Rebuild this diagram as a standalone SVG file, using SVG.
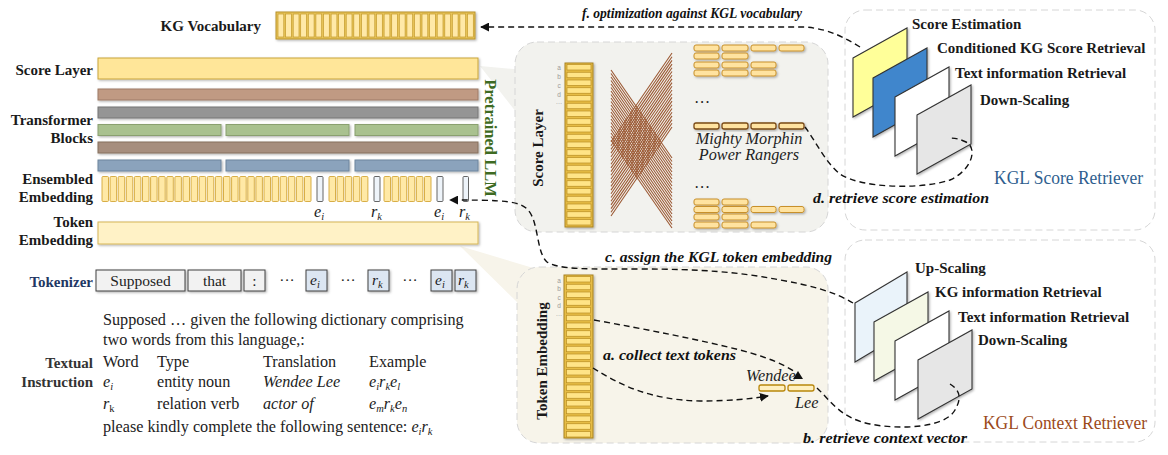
<svg xmlns="http://www.w3.org/2000/svg" width="1168" height="455" viewBox="0 0 1168 455">
<defs>
<style>
.lbl{font-family:"Liberation Serif",serif;font-weight:bold;font-size:15px;fill:#1a1a1a}
.cl{font-family:"Liberation Serif",serif;font-weight:bold;font-style:italic;font-size:15.5px;fill:#111}
.txt{font-family:"Liberation Serif",serif;font-size:16.2px;fill:#222}
.it{font-style:italic}
.sm{font-size:10.5px}
.tok{font-family:"Liberation Serif",serif;font-size:15.5px;fill:#222}
.tiny{font-family:"Liberation Sans",sans-serif;font-size:6.5px;fill:#9a9a9a}
.dash{fill:none;stroke:#111;stroke-width:1.4;stroke-dasharray:6 4}
.cell{fill:#FFE9A6;stroke:#D4A637;stroke-width:0.9}
.spc{fill:#EEF4FA;stroke:#555;stroke-width:0.9}
.vcell{fill:#FFE9A8;stroke:#C49A2C;stroke-width:0.7}
.row{fill:#FFE487;stroke:#B88D22;stroke-width:0.7}
.hb{fill:#FFE3A0;stroke:#C8902A;stroke-width:1}
.hbd{fill:#FFE3A0;stroke:#7A4A16;stroke-width:1.3}
.tb{fill:#F2F2F2;stroke:#404040;stroke-width:1}
.tbb{fill:#DCE6F2;stroke:#404040;stroke-width:1}
.panel{stroke:#D6D6D6;stroke-width:1;stroke-dasharray:7 4}
.plane{stroke:#333;stroke-width:1.1}
.xl{fill:none;stroke:#9C5A35;stroke-width:1.1}
</style>
<marker id="ah" viewBox="0 0 10 10" refX="9" refY="5" markerWidth="9" markerHeight="9" markerUnits="userSpaceOnUse" orient="auto"><path d="M0,0 L10,5 L0,10 z" fill="#111"/></marker>
<filter id="sh" x="-10%" y="-20%" width="130%" height="160%"><feDropShadow dx="1.2" dy="1.2" stdDeviation="0.8" flood-color="#000" flood-opacity="0.3"/></filter>
</defs>
<rect width="1168" height="455" fill="#fff"/>

<!-- middle panels -->
<g id="score-panel">
<polygon points="480,66 524,70 524,122" fill="#F2F2EE"/>
<rect x="515" y="42" width="313" height="190" rx="22" fill="#F2F2EE" class="panel"/>
<text class="lbl" transform="translate(543,148) rotate(-90)" text-anchor="middle">Score Layer</text>
<text class="tiny" x="559" y="70" text-anchor="middle">a</text>
<text class="tiny" x="559" y="79" text-anchor="middle">b</text>
<text class="tiny" x="559" y="88" text-anchor="middle">c</text>
<text class="tiny" x="559" y="97" text-anchor="middle">d</text>
<text class="tiny" x="559" y="104" text-anchor="middle">…</text>
<rect x="565" y="63" width="28" height="164" fill="#E6BC45" stroke="#A9831E" filter="url(#sh)"/>
<g class="row">
<rect x="567" y="64.5" width="24" height="5.5"/><rect x="567" y="72.25" width="24" height="5.5"/><rect x="567" y="80" width="24" height="5.5"/><rect x="567" y="87.75" width="24" height="5.5"/><rect x="567" y="95.5" width="24" height="5.5"/><rect x="567" y="103.25" width="24" height="5.5"/><rect x="567" y="111" width="24" height="5.5"/><rect x="567" y="118.75" width="24" height="5.5"/><rect x="567" y="126.5" width="24" height="5.5"/><rect x="567" y="134.25" width="24" height="5.5"/><rect x="567" y="142" width="24" height="5.5"/><rect x="567" y="149.75" width="24" height="5.5"/><rect x="567" y="157.5" width="24" height="5.5"/><rect x="567" y="165.25" width="24" height="5.5"/><rect x="567" y="173" width="24" height="5.5"/><rect x="567" y="180.75" width="24" height="5.5"/><rect x="567" y="188.5" width="24" height="5.5"/><rect x="567" y="196.25" width="24" height="5.5"/><rect x="567" y="204" width="24" height="5.5"/><rect x="567" y="211.75" width="24" height="5.5"/><rect x="567" y="219.5" width="24" height="5.5"/>
</g>
<path class="xl" d="M611,70 L672,158 M611,73.5 L672,161.5 M611,77 L672,165 M611,80.5 L672,168.5 M611,84 L672,172 M611,87.5 L672,175.5 M611,91 L672,179 M611,94.5 L672,182.5 M611,98 L672,186 M611,101.5 L672,189.5 M611,105 L672,193 M611,108.5 L672,196.5 M611,112 L672,200 M611,115.5 L672,203.5 M611,119 L672,207 M611,122.5 L672,210.5 M611,126 L672,214 M611,129.5 L672,217.5 M611,133 L672,221 M611,136.5 L672,224.5 M611,140 L672,228"/>
<path class="xl" d="M611,142 L672,53 M611,145.7 L672,56.7 M611,149.4 L672,60.4 M611,153.1 L672,64.1 M611,156.8 L672,67.8 M611,160.5 L672,71.5 M611,164.2 L672,75.2 M611,167.9 L672,78.9 M611,171.6 L672,82.6 M611,175.3 L672,86.3 M611,179 L672,90 M611,182.7 L672,93.7 M611,186.4 L672,97.4 M611,190.1 L672,101.1 M611,193.8 L672,104.8 M611,197.5 L672,108.5 M611,201.2 L672,112.2 M611,204.9 L672,115.9 M611,208.6 L672,119.6 M611,212.3 L672,123.3 M611,216 L672,127"/>
<g class="hb" filter="url(#sh)">
<rect x="694" y="45" width="25" height="6" rx="2"/><rect x="722" y="45" width="26" height="6" rx="2"/><rect x="751" y="45" width="25" height="6" rx="2"/><rect x="779" y="45" width="25" height="6" rx="2"/>
<rect x="694" y="53" width="25" height="6" rx="2"/><rect x="722" y="53" width="26" height="6" rx="2"/>
<rect x="694" y="62" width="25" height="6" rx="2"/><rect x="722" y="62" width="26" height="6" rx="2"/><rect x="751" y="62" width="25" height="6" rx="2"/>
<rect x="694" y="70" width="25" height="6" rx="2"/><rect x="722" y="70" width="26" height="6" rx="2"/><rect x="751" y="70" width="25" height="6" rx="2"/>
<rect x="694" y="199" width="25" height="6" rx="2"/><rect x="722" y="199" width="26" height="6" rx="2"/>
<rect x="694" y="206.5" width="25" height="6" rx="2"/><rect x="722" y="206.5" width="26" height="6" rx="2"/><rect x="751" y="206.5" width="25" height="6" rx="2"/><rect x="779" y="206.5" width="25" height="6" rx="2"/>
<rect x="694" y="214" width="25" height="6" rx="2"/><rect x="722" y="214" width="26" height="6" rx="2"/>
<rect x="694" y="222" width="25" height="6" rx="2"/><rect x="722" y="222" width="26" height="6" rx="2"/><rect x="751" y="222" width="25" height="6" rx="2"/>
</g>
<g class="hbd" filter="url(#sh)">
<rect x="694" y="123" width="25" height="6" rx="2"/><rect x="722" y="123" width="26" height="6" rx="2"/><rect x="751" y="123" width="25" height="6" rx="2"/><rect x="779" y="123" width="25" height="6" rx="2"/>
</g>
<text class="txt" x="694" y="103" font-size="13">…</text>
<text class="txt" x="694" y="188" font-size="13">…</text>
<text class="txt it" x="749" y="144" text-anchor="middle" font-size="14" fill="#333">Mighty Morphin</text>
<text class="txt it" x="749" y="160" text-anchor="middle" font-size="14" fill="#333">Power Rangers</text>
</g>

<g id="token-panel">
<polygon points="460,246 540,270 520,305" fill="#F7F4EA"/>
<rect x="517" y="267" width="311" height="176" rx="22" fill="#F7F4EA" class="panel"/>
<text class="lbl" transform="translate(547,361) rotate(-90)" text-anchor="middle">Token Embedding</text>
<text class="tiny" x="559" y="283" text-anchor="middle">a</text>
<text class="tiny" x="559" y="291" text-anchor="middle">b</text>
<text class="tiny" x="559" y="300" text-anchor="middle">c</text>
<text class="tiny" x="559" y="308" text-anchor="middle">d</text>
<text class="tiny" x="559" y="316" text-anchor="middle">…</text>
<rect x="564" y="275" width="29" height="163" fill="#E6BC45" stroke="#A9831E" filter="url(#sh)"/>
<g class="row">
<rect x="566.5" y="276.5" width="24" height="5.5"/><rect x="566.5" y="284.25" width="24" height="5.5"/><rect x="566.5" y="292" width="24" height="5.5"/><rect x="566.5" y="299.75" width="24" height="5.5"/><rect x="566.5" y="307.5" width="24" height="5.5"/><rect x="566.5" y="315.25" width="24" height="5.5"/><rect x="566.5" y="323" width="24" height="5.5"/><rect x="566.5" y="330.75" width="24" height="5.5"/><rect x="566.5" y="338.5" width="24" height="5.5"/><rect x="566.5" y="346.25" width="24" height="5.5"/><rect x="566.5" y="354" width="24" height="5.5"/><rect x="566.5" y="361.75" width="24" height="5.5"/><rect x="566.5" y="369.5" width="24" height="5.5"/><rect x="566.5" y="377.25" width="24" height="5.5"/><rect x="566.5" y="385" width="24" height="5.5"/><rect x="566.5" y="392.75" width="24" height="5.5"/><rect x="566.5" y="400.5" width="24" height="5.5"/><rect x="566.5" y="408.25" width="24" height="5.5"/><rect x="566.5" y="416" width="24" height="5.5"/><rect x="566.5" y="423.75" width="24" height="5.5"/><rect x="566.5" y="431.5" width="24" height="5.5"/>
</g>
<text class="txt it" x="746" y="381" font-size="14" fill="#1F3864">Wendee</text>
<rect x="759" y="385" width="26" height="6" rx="2" fill="#FFF0C0" stroke="#B8860B" stroke-width="1.3"/>
<rect x="788" y="385" width="26" height="6" rx="2" fill="#FFF0C0" stroke="#B8860B" stroke-width="1.3"/>
<text class="txt it" x="795" y="408" font-size="14" fill="#1F3864">Lee</text>
</g>

<!-- right panels -->
<g id="score-retriever">
<rect x="845" y="10" width="310" height="220" rx="20" fill="#fff" class="panel"/>
<polygon class="plane" points="853,58 907,28 907,87 853,117" fill="#FFFF99" filter="url(#sh)"/>
<polygon class="plane" points="873,78 927,48 927,107 873,137" fill="#3F86CC" filter="url(#sh)"/>
<polygon class="plane" points="895,97 949,67 949,126 895,156" fill="#FFFFFF" filter="url(#sh)"/>
<polygon class="plane" points="917,115 971,85 971,144 917,174" fill="#E6E6E6" filter="url(#sh)"/>
<text class="lbl" x="912" y="29">Score Estimation</text>
<text class="lbl" x="937" y="53">Conditioned KG Score Retrieval</text>
<text class="lbl" x="955" y="78">Text information Retrieval</text>
<text class="lbl" x="980" y="105">Down-Scaling</text>
<text x="994" y="184" font-family="Liberation Serif,serif" font-size="18" fill="#2E5E8E" textLength="149" lengthAdjust="spacingAndGlyphs">KGL Score Retriever</text>
</g>

<g id="context-retriever">
<rect x="845" y="240" width="310" height="202" rx="20" fill="#fff" class="panel"/>
<polygon class="plane" points="855,303 907,272 907,331 855,362" fill="#EAF3FA" filter="url(#sh)"/>
<polygon class="plane" points="874,322 928,292 928,351 874,381" fill="#F5F8E6" filter="url(#sh)"/>
<polygon class="plane" points="895,341 949,311 949,370 895,400" fill="#FFFFFF" filter="url(#sh)"/>
<polygon class="plane" points="918,360 972,330 972,389 918,419" fill="#E6E6E6" filter="url(#sh)"/>
<text class="lbl" x="915" y="273">Up-Scaling</text>
<text class="lbl" x="935" y="297">KG information Retrieval</text>
<text class="lbl" x="958" y="322">Text information Retrieval</text>
<text class="lbl" x="978" y="345">Down-Scaling</text>
<text x="983" y="429" font-family="Liberation Serif,serif" font-size="18" fill="#9C4A1A" textLength="164" lengthAdjust="spacingAndGlyphs">KGL Context Retriever</text>
</g>

<!-- left LLM -->
<g id="kg-vocabulary">
<text class="lbl" x="261" y="31" text-anchor="end">KG Vocabulary</text>
<rect x="276" y="12" width="199" height="27" fill="#E8C55A" stroke="#B8922A" filter="url(#sh)"/>
<g class="vcell">
<rect x="278" y="14" width="5.8" height="23"/><rect x="285.6" y="14" width="5.8" height="23"/><rect x="293.2" y="14" width="5.8" height="23"/><rect x="300.7" y="14" width="5.8" height="23"/><rect x="308.3" y="14" width="5.8" height="23"/><rect x="315.9" y="14" width="5.8" height="23"/><rect x="323.5" y="14" width="5.8" height="23"/><rect x="331.1" y="14" width="5.8" height="23"/><rect x="338.6" y="14" width="5.8" height="23"/><rect x="346.2" y="14" width="5.8" height="23"/><rect x="353.8" y="14" width="5.8" height="23"/><rect x="361.4" y="14" width="5.8" height="23"/><rect x="369" y="14" width="5.8" height="23"/><rect x="376.5" y="14" width="5.8" height="23"/><rect x="384.1" y="14" width="5.8" height="23"/><rect x="391.7" y="14" width="5.8" height="23"/><rect x="399.3" y="14" width="5.8" height="23"/><rect x="406.9" y="14" width="5.8" height="23"/><rect x="414.4" y="14" width="5.8" height="23"/><rect x="422" y="14" width="5.8" height="23"/><rect x="429.6" y="14" width="5.8" height="23"/><rect x="437.2" y="14" width="5.8" height="23"/><rect x="444.8" y="14" width="5.8" height="23"/><rect x="452.3" y="14" width="5.8" height="23"/><rect x="459.9" y="14" width="5.8" height="23"/><rect x="467.5" y="14" width="5.8" height="23"/>
</g>
</g>

<g id="score-layer">
<text class="lbl" x="93" y="75" text-anchor="end">Score Layer</text>
<rect x="98" y="58" width="380" height="21" fill="#FFE699" stroke="#C9A53A" filter="url(#sh)"/>
</g>

<g id="transformer-blocks">
<text class="lbl" x="93" y="125" text-anchor="end">Transformer</text>
<text class="lbl" x="93" y="143" text-anchor="end">Blocks</text>
<g filter="url(#sh)">
<rect x="98" y="89" width="380" height="11" fill="#C09A83" stroke="#9E7B66"/>
<rect x="98" y="107" width="380" height="11" fill="#959595" stroke="#777"/>
<rect x="98" y="124.5" width="123" height="11" fill="#A9C18F" stroke="#8AA070"/>
<rect x="226" y="124.5" width="123" height="11" fill="#A9C18F" stroke="#8AA070"/>
<rect x="355" y="124.5" width="123" height="11" fill="#A9C18F" stroke="#8AA070"/>
<rect x="98" y="142" width="380" height="11" fill="#A68E7E" stroke="#86705F"/>
<rect x="98" y="160" width="123" height="11" fill="#8BA3BC" stroke="#6D859E"/>
<rect x="226" y="160" width="123" height="11" fill="#8BA3BC" stroke="#6D859E"/>
<rect x="355" y="160" width="123" height="11" fill="#8BA3BC" stroke="#6D859E"/>
</g>
</g>

<g id="ensembled-embedding">
<text class="lbl" x="93" y="184" text-anchor="end">Ensembled</text>
<text class="lbl" x="93" y="202" text-anchor="end">Embedding</text>
<g class="cell">
<rect x="102" y="176.5" width="6.5" height="25" rx="1"/><rect x="110.1" y="176.5" width="6.5" height="25" rx="1"/><rect x="118.2" y="176.5" width="6.5" height="25" rx="1"/><rect x="126.3" y="176.5" width="6.5" height="25" rx="1"/><rect x="134.4" y="176.5" width="6.5" height="25" rx="1"/><rect x="142.5" y="176.5" width="6.5" height="25" rx="1"/><rect x="150.6" y="176.5" width="6.5" height="25" rx="1"/><rect x="158.7" y="176.5" width="6.5" height="25" rx="1"/><rect x="166.8" y="176.5" width="6.5" height="25" rx="1"/><rect x="174.9" y="176.5" width="6.5" height="25" rx="1"/><rect x="183" y="176.5" width="6.5" height="25" rx="1"/><rect x="191.1" y="176.5" width="6.5" height="25" rx="1"/><rect x="199.2" y="176.5" width="6.5" height="25" rx="1"/><rect x="207.3" y="176.5" width="6.5" height="25" rx="1"/><rect x="215.4" y="176.5" width="6.5" height="25" rx="1"/><rect x="223.5" y="176.5" width="6.5" height="25" rx="1"/><rect x="231.6" y="176.5" width="6.5" height="25" rx="1"/><rect x="239.7" y="176.5" width="6.5" height="25" rx="1"/><rect x="247.8" y="176.5" width="6.5" height="25" rx="1"/><rect x="255.9" y="176.5" width="6.5" height="25" rx="1"/><rect x="264" y="176.5" width="6.5" height="25" rx="1"/><rect x="272.1" y="176.5" width="6.5" height="25" rx="1"/><rect x="280.2" y="176.5" width="6.5" height="25" rx="1"/><rect x="288.3" y="176.5" width="6.5" height="25" rx="1"/><rect x="296.4" y="176.5" width="6.5" height="25" rx="1"/><rect x="304.5" y="176.5" width="6.5" height="25" rx="1"/>
<rect x="329" y="176.5" width="6.5" height="25" rx="1"/><rect x="337.1" y="176.5" width="6.5" height="25" rx="1"/><rect x="345.2" y="176.5" width="6.5" height="25" rx="1"/><rect x="353.3" y="176.5" width="6.5" height="25" rx="1"/><rect x="361.4" y="176.5" width="6.5" height="25" rx="1"/>
<rect x="384" y="176.5" width="6.5" height="25" rx="1"/><rect x="392.1" y="176.5" width="6.5" height="25" rx="1"/><rect x="400.2" y="176.5" width="6.5" height="25" rx="1"/><rect x="408.3" y="176.5" width="6.5" height="25" rx="1"/><rect x="416.4" y="176.5" width="6.5" height="25" rx="1"/><rect x="424.5" y="176.5" width="6.5" height="25" rx="1"/>
</g>
<g class="spc">
<rect x="317" y="176.5" width="6" height="25" rx="1"/><rect x="374" y="176.5" width="6" height="25" rx="1"/><rect x="437" y="176.5" width="6" height="25" rx="1"/><rect x="463" y="176.5" width="5.5" height="25" rx="1"/>
</g>
<text class="txt it" x="314" y="217" font-size="15.5">e<tspan class="sm" dy="3">i</tspan></text>
<text class="txt it" x="371" y="217" font-size="15.5">r<tspan class="sm" dy="3">k</tspan></text>
<text class="txt it" x="434" y="217" font-size="15.5">e<tspan class="sm" dy="3">i</tspan></text>
<text class="txt it" x="459" y="217" font-size="15.5">r<tspan class="sm" dy="3">k</tspan></text>
</g>

<g id="token-embedding">
<text class="lbl" x="93" y="227" text-anchor="end">Token</text>
<text class="lbl" x="93" y="245" text-anchor="end">Embedding</text>
<rect x="98" y="222" width="380" height="22" fill="#FFF2C6" stroke="#D6B656" filter="url(#sh)"/>
</g>

<text id="pretrained-llm" transform="translate(485,138) rotate(90)" text-anchor="middle" font-family="Liberation Serif,serif" font-weight="bold" font-size="16.5" fill="#3E6B22">Pretrained LLM</text>

<g id="tokenizer">
<text class="lbl" x="93" y="287" text-anchor="end" style="fill:#1F3864">Tokenizer</text>
<g filter="url(#sh)">
<rect class="tb" x="96" y="270" width="89" height="21"/>
<rect class="tb" x="188" y="270" width="53" height="21"/>
<rect class="tb" x="244" y="270" width="21" height="21"/>
<rect class="tbb" x="306" y="270" width="21" height="21"/>
<rect class="tbb" x="368" y="270" width="21" height="21"/>
<rect class="tbb" x="431" y="270" width="21" height="21"/>
<rect class="tbb" x="455" y="270" width="21" height="21"/>
</g>
<text class="tok" x="140.5" y="286" text-anchor="middle">Supposed</text>
<text class="tok" x="214.5" y="286" text-anchor="middle">that</text>
<text class="tok" x="254.5" y="286" text-anchor="middle">:</text>
<text class="tok" x="287" y="285" text-anchor="middle">···</text>
<text class="tok" x="348" y="285" text-anchor="middle">···</text>
<text class="tok" x="410" y="285" text-anchor="middle">···</text>
<text class="tok it" x="310" y="285">e<tspan class="sm" dy="3">i</tspan></text>
<text class="tok it" x="372" y="285">r<tspan class="sm" dy="3">k</tspan></text>
<text class="tok it" x="435" y="285">e<tspan class="sm" dy="3">i</tspan></text>
<text class="tok it" x="458" y="285">r<tspan class="sm" dy="3">k</tspan></text>
</g>

<g id="textual-instruction">
<text class="lbl" x="93" y="368" text-anchor="end" style="fill:#333">Textual</text>
<text class="lbl" x="93" y="387" text-anchor="end" style="fill:#333">Instruction</text>
<text class="txt" x="103" y="325">Supposed … given the following dictionary comprising</text>
<text class="txt" x="103" y="345">two words from this language,:</text>
<text class="txt" x="103" y="367">Word</text>
<text class="txt" x="157" y="367">Type</text>
<text class="txt" x="263" y="367">Translation</text>
<text class="txt" x="369" y="367">Example</text>
<text class="txt it" x="103" y="387">e<tspan class="sm" dy="3">i</tspan></text>
<text class="txt" x="157" y="387">entity noun</text>
<text class="txt it" x="263" y="387">Wendee Lee</text>
<text class="txt it" x="369" y="387">e<tspan class="sm" dy="3">i</tspan><tspan dy="-3">r</tspan><tspan class="sm" dy="3">k</tspan><tspan dy="-3">e</tspan><tspan class="sm" dy="3">l</tspan></text>
<text class="txt" x="103" y="409"><tspan class="it">r</tspan><tspan class="sm" dy="3">k</tspan></text>
<text class="txt" x="157" y="409">relation verb</text>
<text class="txt it" x="263" y="409">actor of</text>
<text class="txt it" x="369" y="409">e<tspan class="sm" dy="3">m</tspan><tspan dy="-3">r</tspan><tspan class="sm" dy="3">k</tspan><tspan dy="-3">e</tspan><tspan class="sm" dy="3">n</tspan></text>
<text class="txt" x="103" y="432">please kindly complete the following sentence: <tspan class="it">e</tspan><tspan class="sm it" dy="3">i</tspan><tspan class="it" dy="-3">r</tspan><tspan class="sm it" dy="3">k</tspan></text>
</g>

<!-- connectors -->
<g id="connectors">
<path class="dash" d="M860,47 C845,38 830,29 805,27 L481,27" marker-end="url(#ah)"/>
<path class="dash" d="M805,127 C815,140 825,162 840,174 C860,188 920,190 950,180 C972,170 978,148 966,142 C960,139 955,138 948,138"/>
<path class="dash" d="M853,303 C835,292 810,285 780,280 C740,272 700,269 640,269 C590,269 560,270 547,262 C536,252 539,222 528,210 C520,201 505,200 450,200" marker-end="url(#ah)"/>
<path class="dash" d="M593,368 C620,385 650,400 700,401 C730,401 750,399 768,396" marker-end="url(#ah)"/>
<path class="dash" d="M594,320 C650,330 700,340 740,350 C770,358 785,365 795,372"/>
<polygon points="793,379 803,379 798,371" fill="#111"/>
<path class="dash" d="M817,388 C830,400 840,418 870,424 C900,430 945,428 955,410 C962,398 960,390 950,384"/>
<text class="cl" x="582" y="18" textLength="220" lengthAdjust="spacingAndGlyphs">f. optimization against KGL vocabulary</text>
<text class="cl" x="813" y="203" textLength="176" lengthAdjust="spacingAndGlyphs">d. retrieve score estimation</text>
<text class="cl" x="605" y="262" textLength="227" lengthAdjust="spacingAndGlyphs">c. assign the KGL token embedding</text>
<text class="cl" x="603" y="360" textLength="133" lengthAdjust="spacingAndGlyphs">a. collect text tokens</text>
<text class="cl" x="803" y="443" textLength="164" lengthAdjust="spacingAndGlyphs">b. retrieve context vector</text>
</g>
</svg>
